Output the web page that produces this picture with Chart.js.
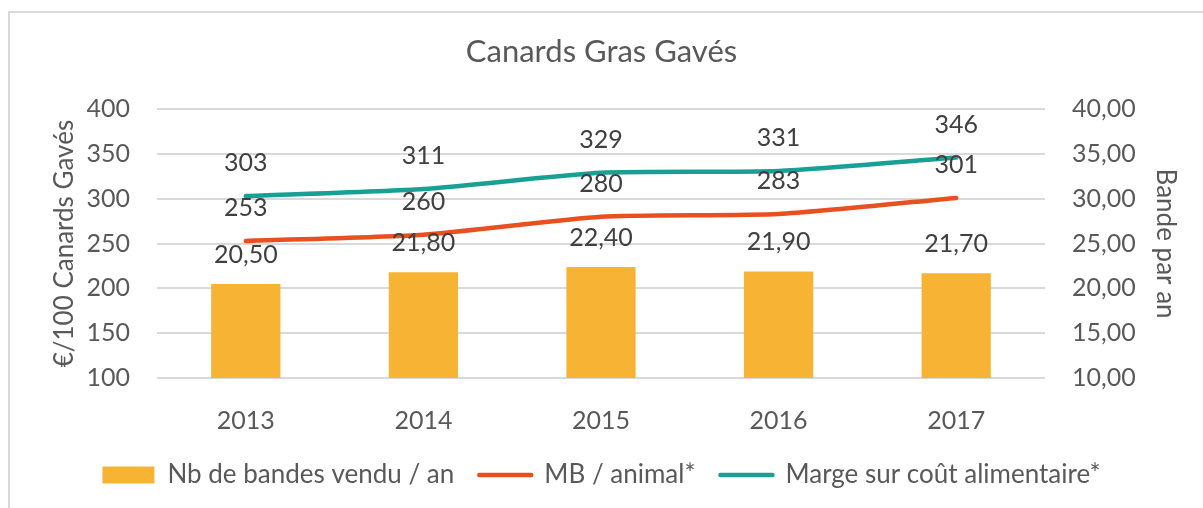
<!DOCTYPE html>
<html>
<head>
<meta charset="utf-8">
<script src="https://cdn.jsdelivr.net/npm/chart.js@4"></script>
<style>
  html, body { margin: 0; padding: 0; background: #fff; }
  #frame { position: absolute; left: 8px; top: 11px; width: 1400px; height: 700px; border: 2px solid #d9d9d9; box-sizing: border-box; }
  #wrap { position: absolute; left: 0; top: 0; width: 1203px; height: 508px; }
</style>
</head>
<body>
<div id="frame"></div>
<div id="wrap"><canvas id="chart"></canvas></div>
<script>
// ========== données ==========
const years = ["2013", "2014", "2015", "2016", "2017"];
const bandes = [20.5, 21.8, 22.4, 21.9, 21.7];        // Nb de bandes vendu / an (axe droit)
const mbAnimal = [253, 260, 280, 283, 301];           // MB / animal*
const margeAlim = [303, 311, 329, 331, 346];          // Marge sur coût alimentaire*

const FONT = "Lato, 'Open Sans', sans-serif";
const TXT = "#595959";

function fr2(v) { return v.toFixed(2).replace(".", ","); }

// étiquettes de données au-dessus des points / barres
const valueLabels = {
  id: "valueLabels",
  afterDatasetsDraw(chart) {
    const ctx = chart.ctx;
    ctx.save();
    ctx.font = "25px " + FONT;
    ctx.fillStyle = "#404040";
    ctx.textAlign = "center";
    ctx.textBaseline = "middle";
    chart.data.datasets.forEach((ds, i) => {
      const meta = chart.getDatasetMeta(i);
      meta.data.forEach((el, j) => {
        const v = ds.data[j];
        if (ds.type === "bar") {
          ctx.fillText(fr2(v), el.x, el.y - 29);
        } else {
          ctx.fillText(String(v), el.x, el.y - 33);
        }
      });
    });
    ctx.restore();
  }
};

new Chart(document.getElementById("chart"), {
  data: {
    labels: years,
    datasets: [
      {
        type: "bar",
        label: "Nb de bandes vendu / an",
        data: bandes,
        yAxisID: "y1",
        backgroundColor: "#F7B334",
        borderWidth: 0,
        barPercentage: 0.39,
        categoryPercentage: 1,
        order: 2
      },
      {
        type: "line",
        label: "MB / animal*",
        data: mbAnimal,
        yAxisID: "y",
        borderColor: "#E8501F",
        backgroundColor: "#E8501F",
        borderWidth: 4.5,
        borderCapStyle: "round",
        tension: 0.2,
        pointRadius: 0,
        order: 1
      },
      {
        type: "line",
        label: "Marge sur coût alimentaire*",
        data: margeAlim,
        yAxisID: "y",
        borderColor: "#18A095",
        backgroundColor: "#18A095",
        borderWidth: 4.5,
        borderCapStyle: "round",
        tension: 0.2,
        pointRadius: 0,
        order: 1
      }
    ]
  },
  options: {
    responsive: true,
    maintainAspectRatio: false,
    animation: false,
    layout: { padding: { left: 0, right: 0, top: 0, bottom: 10 } },
    plugins: {
      title: {
        display: true,
        text: "Canards Gras Gavés",
        color: TXT,
        font: { family: FONT, size: 31, weight: "normal" },
        padding: { top: 33, bottom: 39 }
      },
      legend: {
        position: "bottom",
        labels: {
          color: TXT,
          font: { family: FONT, size: 26 },
          usePointStyle: true,
          pointStyleWidth: 52,
          boxHeight: 17,
          padding: 25,
          generateLabels: chart => chart.data.datasets.map((ds, i) => ({
            text: ds.label,
            fillStyle: ds.backgroundColor,
            strokeStyle: ds.type === "line" ? ds.borderColor : ds.backgroundColor,
            lineWidth: ds.type === "line" ? 4.5 : 0,
            lineCap: "round",
            pointStyle: ds.type === "line" ? "line" : "rect",
            fontColor: TXT,
            hidden: false,
            datasetIndex: i
          }))
        }
      },
      tooltip: { enabled: false }
    },
    scales: {
      x: {
        grid: { display: false },
        border: { display: false },
        ticks: { color: TXT, font: { family: FONT, size: 25 }, padding: 20 },
        afterFit(scale) { scale.height = 59; }
      },
      y: {
        position: "left",
        min: 100, max: 400,
        ticks: { stepSize: 50, color: TXT, font: { family: FONT, size: 25 }, padding: 27 },
        grid: { color: "#d9d9d9", lineWidth: 2, drawTicks: false },
        border: { display: false },
        title: {
          display: true,
          text: "€/100 Canards Gavés",
          color: TXT,
          font: { family: FONT, size: 26 },
          padding: { top: 49, bottom: 0 }
        },
        afterFit(scale) { scale.width = 157; }
      },
      y1: {
        position: "right",
        min: 10, max: 40,
        ticks: { stepSize: 5, color: TXT, font: { family: FONT, size: 25 }, padding: 27, callback: v => fr2(v) },
        grid: { display: false, drawTicks: false },
        border: { display: false },
        title: {
          display: true,
          text: "Bande par an",
          color: TXT,
          font: { family: FONT, size: 26 },
          padding: { top: 22, bottom: 0 }
        },
        afterFit(scale) { scale.width = 158; }
      }
    }
  },
  plugins: [valueLabels]
});
</script>
</body>
</html>
